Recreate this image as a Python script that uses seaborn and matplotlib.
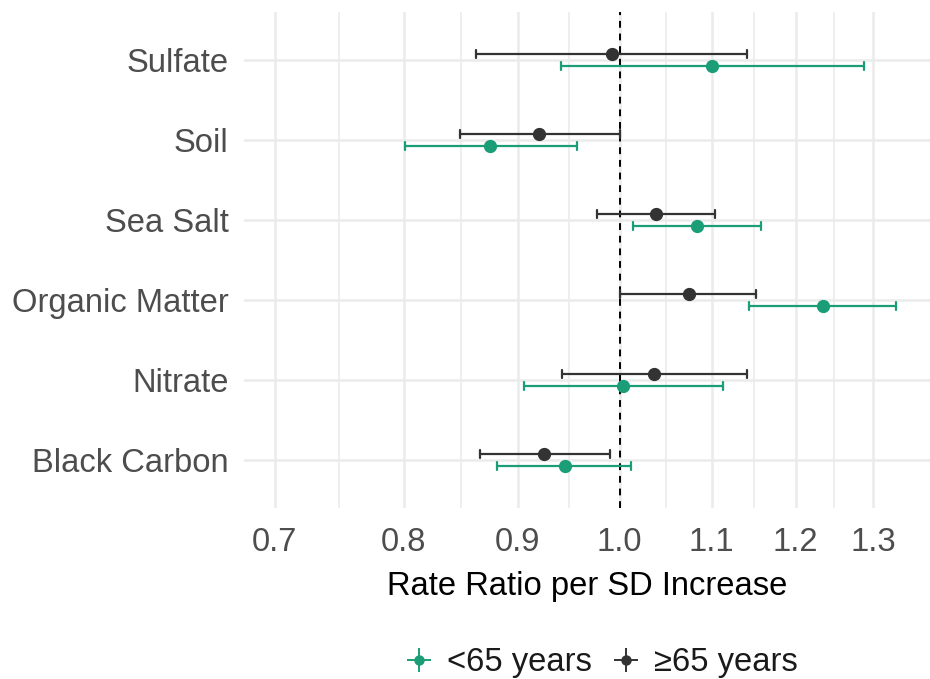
import numpy as np
import pandas as pd
import matplotlib
matplotlib.use("Agg")
import matplotlib.pyplot as plt
import seaborn as sns
from matplotlib.lines import Line2D
from matplotlib.legend_handler import HandlerTuple

# Rate ratios per SD increase
components = ["Sulfate", "Soil", "Sea Salt", "Organic Matter", "Nitrate", "Black Carbon"]
groups = ["<65 years", "\u226565 years"]

young_est = [1.100, 0.875, 1.084, 1.234, 1.004, 0.945]
young_lo = [0.941, 0.801, 1.014, 1.144, 0.906, 0.881]
young_hi = [1.288, 0.957, 1.158, 1.331, 1.113, 1.012]

old_est = [0.992, 0.920, 1.039, 1.075, 1.036, 0.925]
old_lo = [0.862, 0.848, 0.977, 1.001, 0.942, 0.866]
old_hi = [1.141, 1.000, 1.104, 1.152, 1.141, 0.990]

x_ticks = [0.7, 0.8, 0.9, 1.0, 1.1, 1.2, 1.3]

colors = {"<65 years": "#1B9E77", "\u226565 years": "#333333"}

# long table: lower / estimate / upper rows per component and group
rows = []
for g, est, lo, hi in [(groups[0], young_est, young_lo, young_hi),
                       (groups[1], old_est, old_lo, old_hi)]:
    for c, e, l, h in zip(components, est, lo, hi):
        for v in (l, e, h):
            rows.append({"component": c, "group": g, "rr": v})
df = pd.DataFrame(rows)

sns.set_theme(style="whitegrid")
plt.rcParams["font.family"] = ["Liberation Sans", "DejaVu Sans"]

fig = plt.figure(figsize=(9.3, 6.79), dpi=100)
ax = fig.add_axes([0.2624, 0.2518, 0.7376, 0.7305])

sns.pointplot(data=df, x="rr", y="component", hue="group",
              order=components, hue_order=[groups[1], groups[0]],
              palette=colors, estimator="median",
              errorbar=lambda v: (v.min(), v.max()),
              dodge=0.15, linestyle="none", markers="o",
              capsize=0.1, err_kws={"linewidth": 1.6},
              markersize=7.5, log_scale=True, legend=False, ax=ax)

ax.axvline(1.0, color="black", linestyle=(0, (3.5, 3.0)), linewidth=1.4, zorder=1)

# axis ranges and ticks
ax.set_xscale("log")
ax.set_xlim(0.678, 1.379)
ax.set_ylim(len(components) - 0.4, -0.6)
ax.set_xticks(x_ticks)
ax.set_xticklabels([f"{t:.1f}" for t in x_ticks])
minor = [np.sqrt(a * b) for a, b in zip(x_ticks[:-1], x_ticks[1:])]
ax.set_xticks(minor, minor=True)
ax.set_xticklabels([], minor=True)

ax.grid(which="major", color="#EBEBEB", linewidth=1.8)
ax.grid(which="minor", axis="x", color="#EBEBEB", linewidth=1.2)
ax.set_axisbelow(True)
for s in ax.spines.values():
    s.set_visible(False)

ax.tick_params(axis="both", which="both", length=0, labelsize=23.6, labelcolor="#4D4D4D")
ax.tick_params(axis="x", pad=14)
ax.tick_params(axis="y", pad=11)
ax.set_xlabel("Rate Ratio per SD Increase", fontsize=23.6, color="black", labelpad=9)
ax.set_ylabel("")

# legend at the bottom: point with a cross, like a pointrange key
handles = []
for g in groups:
    cross = Line2D([], [], color=colors[g], marker="+", markersize=17,
                   markeredgewidth=1.4, linestyle="none")
    dot = Line2D([], [], color=colors[g], marker="o", markersize=6.5, linestyle="none")
    handles.append((cross, dot))
leg = fig.legend(handles, groups, handler_map={tuple: HandlerTuple(ndivide=1)},
                 loc="center", bbox_to_anchor=(0.645, 0.024), ncol=2, frameon=False,
                 fontsize=23.6, handlelength=1.0, handletextpad=0.35, columnspacing=0.55)
for t in leg.get_texts():
    t.set_color("#1A1A1A")

fig.savefig("out.png", dpi=100)
